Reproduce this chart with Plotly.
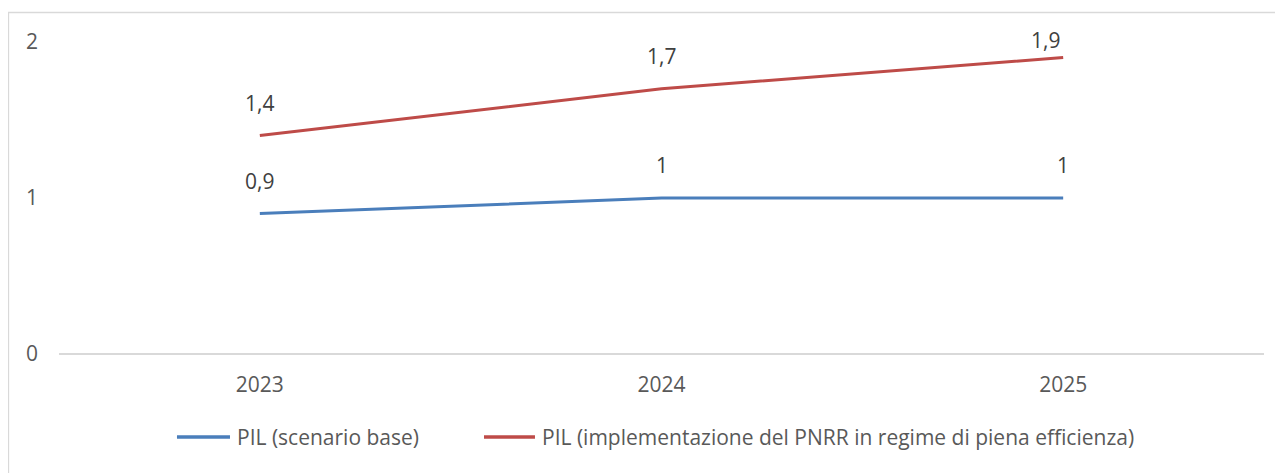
import plotly.graph_objects as go

years = ["2023", "2024", "2025"]
pil_base = [0.9, 1.0, 1.0]
pil_pnrr = [1.4, 1.7, 1.9]
series_names = ["PIL (scenario base)",
                "PIL (implementazione del PNRR in regime di piena efficienza)"]
y_ticks = [0, 1, 2]

colors = ["#4A7EBB", "#BE4B48"]
FONT = "Open Sans"
FS = 21

PLOT_H = 312          # plot-area height in px
Y_MAX = 2
LABEL_GAP = 33        # default label offset above point (px)
TOP_LIMIT = 2.0       # labels kept inside plot area (px units: 2 px margin -> see below)

def fmt(v):
    return f"{v:g}".replace(".", ",")

fig = go.Figure()
for name, vals, col in zip(series_names, [pil_base, pil_pnrr], colors):
    fig.add_trace(go.Scatter(
        x=years, y=vals, mode="lines", name=name,
        line=dict(color=col, width=3),
        hoverinfo="skip", showlegend=False,
    ))
    for i, v in enumerate(vals):
        # Excel-style: keep label inside the chart top, nudging it left when pushed
        room = PLOT_H * (Y_MAX - v) / Y_MAX + 2
        ys = min(LABEL_GAP, room)
        xs = -18 if ys < LABEL_GAP else 0
        fig.add_annotation(x=i, y=v, text=fmt(v), showarrow=False,
                           yshift=ys, xshift=xs,
                           font=dict(family=FONT, size=FS, color="#404040"))

# chart border (Excel-style chart area)
fig.add_shape(type="rect", xref="paper", yref="paper",
              x0=-0.042, x1=1.05, y0=-0.6, y1=1.0946,
              line=dict(color="#D9D9D9", width=1.5), fillcolor="rgba(0,0,0,0)", layer="below")

# manual legend
legend_pos = [(0.0979, 0.1419), (0.3527, 0.3950)]
for (xa, xb), name, col in zip(legend_pos, series_names, colors):
    fig.add_shape(type="line", xref="paper", yref="paper",
                  x0=xa, x1=xb, y0=-0.266, y1=-0.266,
                  line=dict(color=col, width=3.5))
    fig.add_annotation(xref="paper", yref="paper", x=xb + 0.004, y=-0.266,
                       xanchor="left", yanchor="middle", showarrow=False, text=name,
                       font=dict(family=FONT, size=FS, color="#595959"))

fig.update_layout(
    width=1275, height=465,
    margin=dict(l=51, r=19, t=34, b=119),
    paper_bgcolor="white", plot_bgcolor="white",
    font=dict(family=FONT, size=FS, color="#595959"),
    showlegend=False,
    xaxis=dict(type="category", range=[-0.5, 2.5], showgrid=False, zeroline=False,
               showline=False, ticks="", ticklabelstandoff=16,
               tickfont=dict(family=FONT, size=FS, color="#595959")),
    yaxis=dict(range=[0, Y_MAX], tickvals=y_ticks, ticktext=[fmt(v) for v in y_ticks],
               showgrid=False, zeroline=True, zerolinecolor="#D9D9D9", zerolinewidth=1.5,
               showline=False, ticks="", ticklabelstandoff=20,
               tickfont=dict(family=FONT, size=FS, color="#595959")),
)

fig.write_html("out.html")
